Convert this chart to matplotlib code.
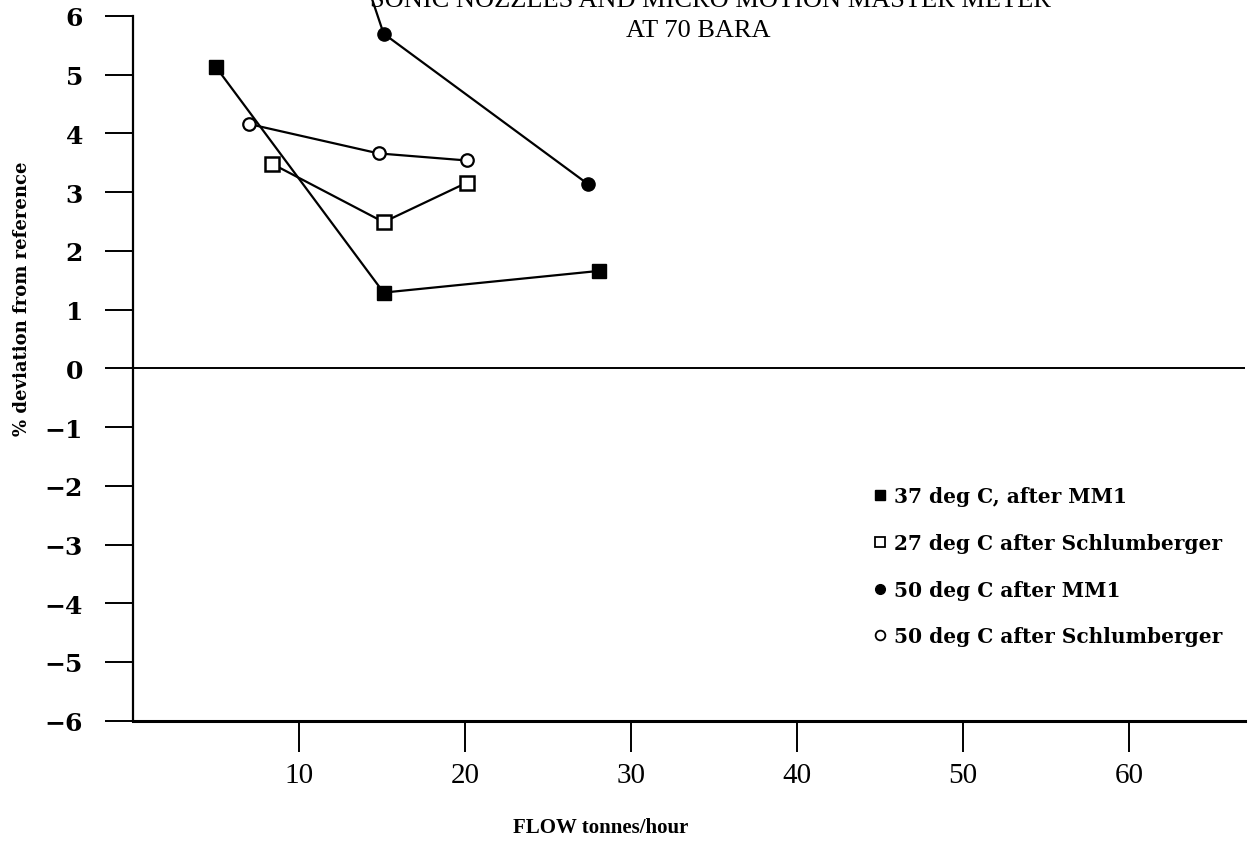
import matplotlib.pyplot as plt

# dados
x_37_mm1 = [5.0, 15.1, 28.1]
y_37_mm1 = [5.13, 1.29, 1.66]

x_27_sch = [8.4, 15.1, 20.1]
y_27_sch = [3.48, 2.49, 3.16]

# o primeiro ponto fica fora da escala (a linha sobe até o título)
x_50_mm1 = [14.2, 15.1, 27.4]
y_50_mm1 = [6.46, 5.70, 3.14]

x_50_sch = [7.0, 14.8, 20.1]
y_50_sch = [4.16, 3.66, 3.54]

labels = ["37 deg C, after MM1", "27 deg C after Schlumberger",
          "50 deg C after MM1", "50 deg C after Schlumberger"]

yticks = list(range(-6, 7))
xticks = [10, 20, 30, 40, 50, 60]

fig = plt.figure(figsize=(12.58, 8.54), dpi=100)
ax = fig.add_axes([133 / 1258, 132.3 / 854, 1112 / 1258, 704.7 / 854])

lw = 1.6
ax.plot(x_37_mm1, y_37_mm1, color="black", lw=lw, marker="s", ms=9.5,
        mfc="black", mec="black", clip_on=False)
ax.plot(x_27_sch, y_27_sch, color="black", lw=lw, marker="s", ms=9.5,
        mfc="white", mec="black", mew=1.8, clip_on=False)
ax.plot(x_50_mm1, y_50_mm1, color="black", lw=lw, marker="o", ms=9.5,
        mfc="black", mec="black", clip_on=False)
ax.plot(x_50_sch, y_50_sch, color="black", lw=lw, marker="o", ms=9,
        mfc="white", mec="black", mew=1.6, clip_on=False)

ax.axhline(0, color="black", lw=1.4)

ax.set_xlim(0, 67)
ax.set_ylim(-6, 6)
ax.set_xticks(xticks)
ax.set_yticks(yticks)
ax.set_yticklabels([str(v).replace("-", "\u2212") for v in yticks],
                   fontfamily="DejaVu Serif", fontweight="bold", fontsize=18)
ax.set_xticklabels([str(v) for v in xticks],
                   fontfamily="Liberation Serif", fontsize=21)

for s in ["top", "right"]:
    ax.spines[s].set_visible(False)
ax.spines["left"].set_linewidth(1.6)
ax.spines["bottom"].set_linewidth(2.2)
ax.tick_params(axis="y", direction="out", length=20, width=1.4, pad=16)
ax.tick_params(axis="x", direction="out", length=22, width=1.4, pad=8)

ax.set_ylabel("% deviation from reference", fontfamily="DejaVu Serif",
              fontweight="bold", fontsize=13)
ax.yaxis.set_label_coords(-0.092, 0.6)
ax.set_xlabel("FLOW tonnes/hour", fontfamily="Liberation Serif",
              fontweight="bold", fontsize=15)
ax.xaxis.set_label_coords((601 - 133) / 1112, -(818 - 721.7) / 704.7)

# título cortado no topo
fig.text(710 / 1258, 1 - 1 / 854, "SONIC NOZZLES AND MICRO MOTION MASTER METER",
         ha="center", va="center", fontfamily="Liberation Serif", fontsize=19)
fig.text(698 / 1258, 1 - 31 / 854, "AT 70 BARA",
         ha="center", va="center", fontfamily="Liberation Serif", fontsize=19)

# legenda
handles = [
    plt.Line2D([], [], ls="none", marker="s", ms=7, mfc="black", mec="black"),
    plt.Line2D([], [], ls="none", marker="s", ms=7, mfc="white", mec="black", mew=1.3),
    plt.Line2D([], [], ls="none", marker="o", ms=7, mfc="black", mec="black"),
    plt.Line2D([], [], ls="none", marker="o", ms=7, mfc="white", mec="black", mew=1.3),
]
leg = ax.legend(handles, labels, loc="upper left", bbox_to_anchor=(0.6646, 0.333),
                frameon=False, handlelength=0.8, handletextpad=0.3,
                labelspacing=1.33, borderaxespad=0, borderpad=0,
                prop={"family": "DejaVu Serif", "weight": "bold", "size": 14.5})

fig.savefig("out.png", dpi=100)
